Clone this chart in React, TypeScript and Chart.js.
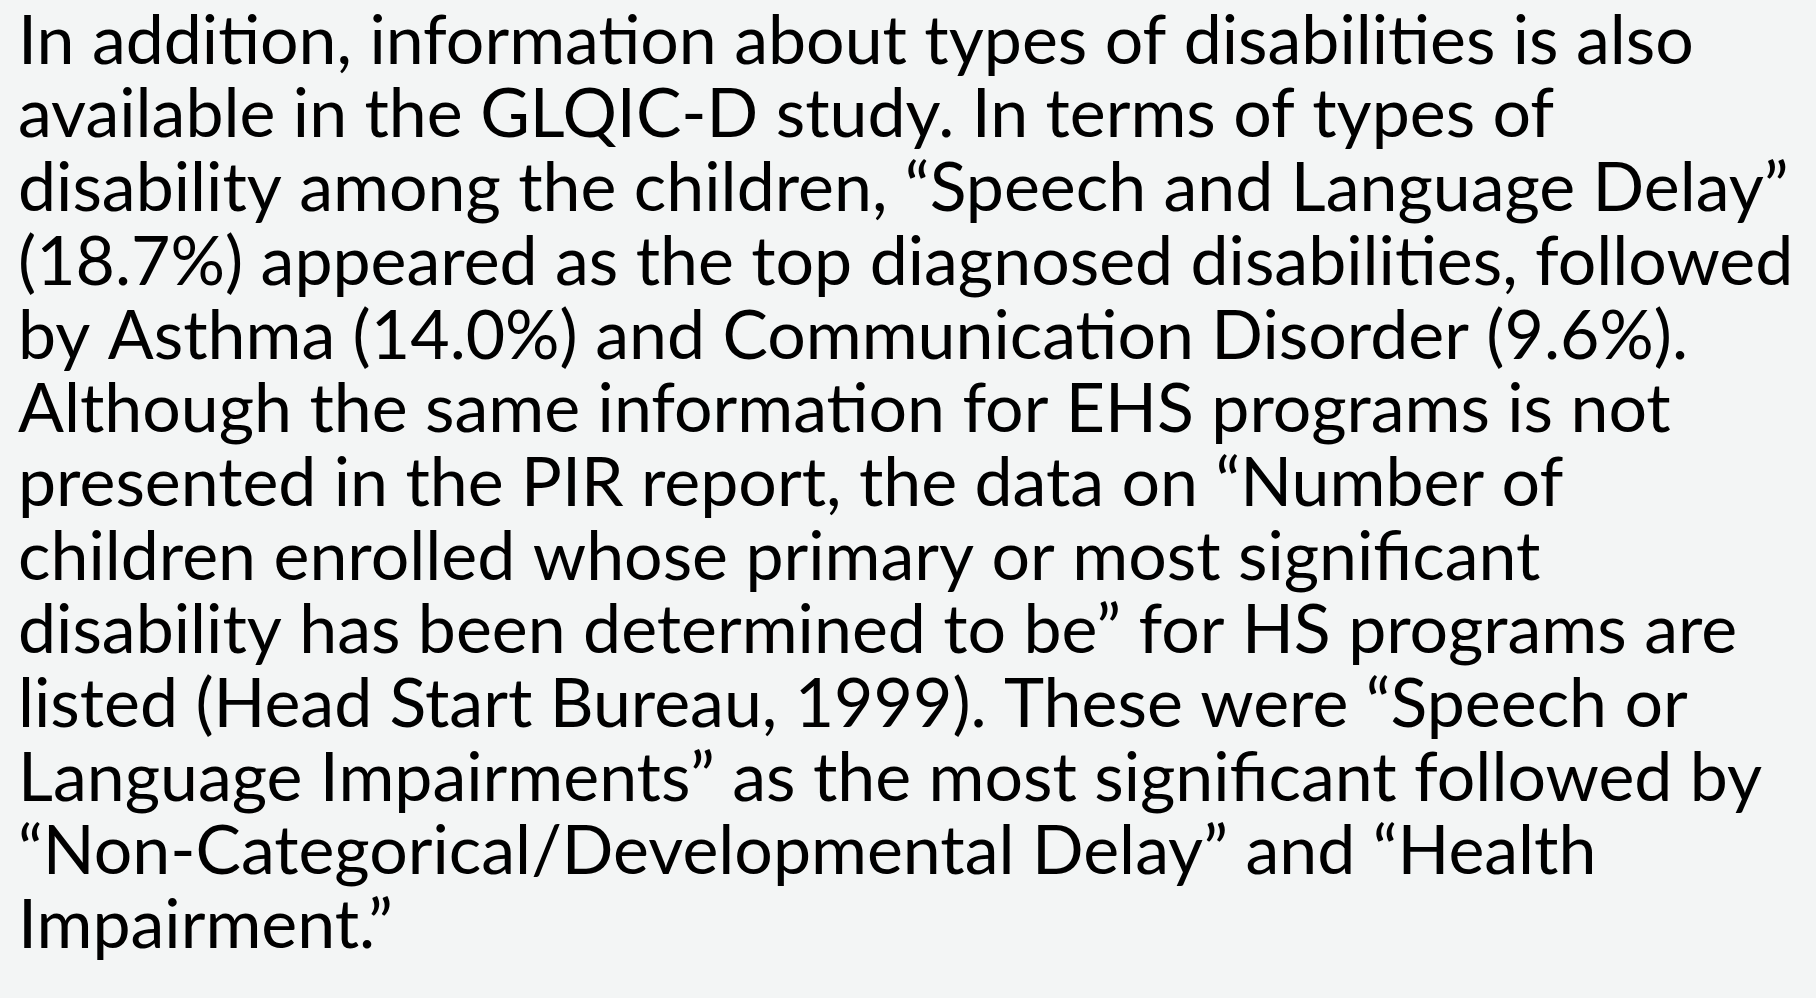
import React, { useEffect, useRef } from "react";
import { Chart, registerables } from "chart.js";

Chart.register(...registerables);

const lines: string[] = [
  "In addition, information about types of disabilities is also",
  "available in the GLQIC-D study. In terms of types of",
  "disability among the children, \u201cSpeech and Language Delay\u201d",
  "(18.7%) appeared as the top diagnosed disabilities, followed",
  "by Asthma (14.0%) and Communication Disorder (9.6%).",
  "Although the same information for EHS programs is not",
  "presented in the PIR report, the data on \u201cNumber of",
  "children enrolled whose primary or most significant",
  "disability has been determined to be\u201d for HS programs are",
  "listed (Head Start Bureau, 1999). These were \u201cSpeech or",
  "Language Impairments\u201d as the most significant followed by",
  "\u201cNon-Categorical/Developmental Delay\u201d and \u201cHealth",
  "Impairment.\u201d",
];

export default function App() {
  const ref = useRef<HTMLCanvasElement | null>(null);

  useEffect(() => {
    document.body.style.margin = "0";
    if (!ref.current) return;
    const chart = new Chart(ref.current, {
      type: "scatter",
      data: { datasets: [] },
      options: {
        animation: false,
        responsive: true,
        maintainAspectRatio: false,
        layout: { padding: { left: 18, right: 0, top: 0, bottom: 0 } },
        scales: { x: { display: false }, y: { display: false } },
        plugins: {
          legend: { display: false },
          tooltip: { enabled: false },
          title: {
            display: true,
            text: lines,
            align: "start",
            color: "#000000",
            font: { family: "Lato", size: 68, weight: "normal", lineHeight: 73.7 / 68 },
            padding: { top: 5, bottom: 0 },
          },
        },
      },
    });
    return () => chart.destroy();
  }, []);

  return (
    <div style={{ position: "fixed", inset: 0, width: 1816, height: 998, background: "#f3f5f5" }}>
      <canvas ref={ref} />
    </div>
  );
}
